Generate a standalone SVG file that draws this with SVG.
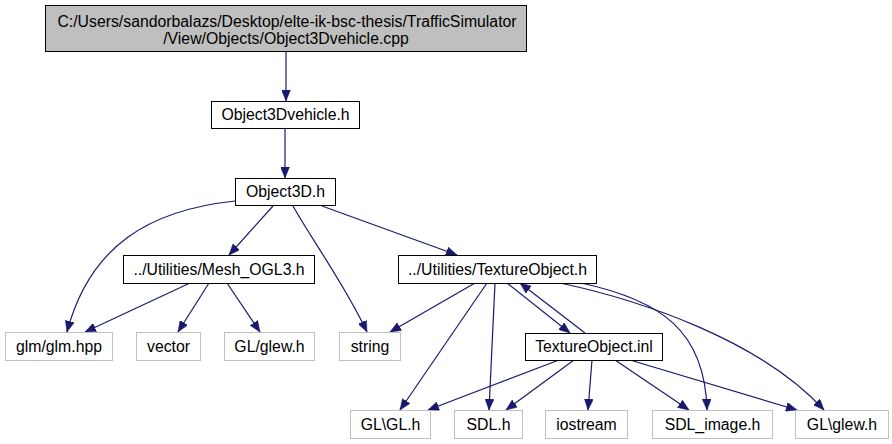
<svg xmlns="http://www.w3.org/2000/svg" width="892" height="444" viewBox="0 0 892 444">
<style>
  .bg { fill: #ffffff; }
  .doc rect { fill: #ffffff; stroke: #000000; stroke-width: 1; }
  .ext rect { fill: #ffffff; stroke: #bfbfbf; stroke-width: 1; }
  .root rect { fill: #bfbfbf; stroke: #000000; stroke-width: 1; }
  text { font-family: "Liberation Sans", Arial, Helvetica, sans-serif; font-size: 15.8px; fill: #000000; text-anchor: middle; }
  .edges path { fill: none; stroke: #191970; stroke-width: 1.2; marker-end: url(#arr); }
</style>
<defs>
  <marker id="arr" markerUnits="userSpaceOnUse" viewBox="0 0 11 9" markerWidth="11" markerHeight="9" refX="11" refY="4.5" orient="auto">
    <path d="M0,0 L11,4.5 L0,9 Z" fill="#191970" stroke="#191970" stroke-width="0.5"/>
  </marker>
</defs>
<rect class="bg" x="0" y="0" width="892" height="444"/>

<g id="connectors" class="edges">
  <path d="M286,51 L286,101"/>
  <path d="M285,128 L285,178"/>
  <path d="M235,201 C150,210 90,245 67,332"/>
  <path d="M273,206 L229,255"/>
  <path d="M293,206 C312,240 345,285 367,332"/>
  <path d="M322,206 L457,255"/>
  <path d="M190,283 L85,332"/>
  <path d="M209,283 L178,332"/>
  <path d="M227,283 L260,332"/>
  <path d="M475,283 L390,332"/>
  <path d="M487,283 L400,410"/>
  <path d="M495,283 L489,410"/>
  <path d="M507,283 L570,333"/>
  <path d="M585,333 L520,283"/>
  <path d="M581,283 C660,300 705,330 707,410"/>
  <path d="M560,283 C640,300 760,340 824,410"/>
  <path d="M559,360 L428,410"/>
  <path d="M574,360 L506,410"/>
  <path d="M592,360 L588,410"/>
  <path d="M615,360 L689,410"/>
  <path d="M630,360 L797,410"/>
</g>

<g id="node_root" class="root">
  <rect x="45.5" y="5.5" width="481" height="46"/>
  <text x="287" y="27">C:/Users/sandorbalazs/Desktop/elte-ik-bsc-thesis/TrafficSimulator</text>
  <text x="286" y="44">/View/Objects/Object3Dvehicle.cpp</text>
</g>
<g id="node_object3dvehicle_h" class="doc">
  <rect x="211.5" y="101.5" width="148" height="27"/>
  <text x="285.5" y="120">Object3Dvehicle.h</text>
</g>
<g id="node_object3d_h" class="doc">
  <rect x="235.5" y="178.5" width="100" height="27"/>
  <text x="285.5" y="197">Object3D.h</text>
</g>
<g id="node_mesh_ogl3_h" class="doc">
  <rect x="123.5" y="255.5" width="191" height="28"/>
  <text x="219" y="274.5">../Utilities/Mesh_OGL3.h</text>
</g>
<g id="node_textureobject_h" class="doc">
  <rect x="398.5" y="255.5" width="198" height="28"/>
  <text x="497.5" y="274.5">../Utilities/TextureObject.h</text>
</g>
<g id="node_glm_hpp" class="ext">
  <rect x="5.5" y="332.5" width="107" height="28"/>
  <text x="59" y="351.5">glm/glm.hpp</text>
</g>
<g id="node_vector" class="ext">
  <rect x="136.5" y="332.5" width="64" height="28"/>
  <text x="168.5" y="351.5">vector</text>
</g>
<g id="node_gl_glew_h_fwd" class="ext">
  <rect x="224.5" y="332.5" width="90" height="28"/>
  <text x="269.5" y="351.5">GL/glew.h</text>
</g>
<g id="node_string" class="ext">
  <rect x="339.5" y="332.5" width="61" height="28"/>
  <text x="370" y="351.5">string</text>
</g>
<g id="node_textureobject_inl" class="doc">
  <rect x="525.5" y="333.5" width="137" height="27"/>
  <text x="594" y="352">TextureObject.inl</text>
</g>
<g id="node_gl_gl_h" class="ext">
  <rect x="350.5" y="410.5" width="80" height="28"/>
  <text x="390.5" y="429.5">GL\GL.h</text>
</g>
<g id="node_sdl_h" class="ext">
  <rect x="454.5" y="410.5" width="68" height="28"/>
  <text x="488.5" y="429.5">SDL.h</text>
</g>
<g id="node_iostream" class="ext">
  <rect x="545.5" y="410.5" width="82" height="28"/>
  <text x="586.5" y="429.5">iostream</text>
</g>
<g id="node_sdl_image_h" class="ext">
  <rect x="652.5" y="410.5" width="120" height="28"/>
  <text x="712.5" y="429.5">SDL_image.h</text>
</g>
<g id="node_gl_glew_h_back" class="ext">
  <rect x="795.5" y="410.5" width="93" height="28"/>
  <text x="842" y="429.5">GL\glew.h</text>
</g>
</svg>
